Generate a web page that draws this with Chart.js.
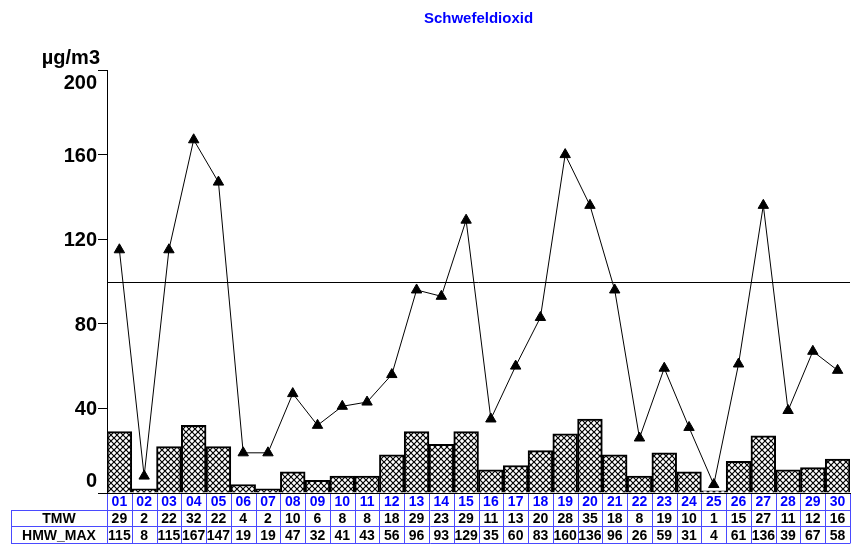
<!DOCTYPE html>
<html>
<head>
<meta charset="utf-8">
<script src="https://cdn.jsdelivr.net/npm/chart.js@4/dist/chart.umd.min.js"></script>
<style>
  html, body { margin: 0; padding: 0; background: #fff; }
  #wrap { width: 857px; height: 547px; }
</style>
</head>
<body>
<div id="wrap"><canvas id="so2" width="857" height="547"></canvas></div>
<script>
const DAYS = ['01','02','03','04','05','06','07','08','09','10','11','12','13','14','15',
              '16','17','18','19','20','21','22','23','24','25','26','27','28','29','30'];
const TMW = [29,2,22,32,22,4,2,10,6,8,8,18,29,23,29,11,13,20,28,35,18,8,19,10,1,15,27,11,12,16];
const HMW_MAX = [115,8,115,167,147,19,19,47,32,41,43,56,96,93,129,35,60,83,160,136,96,26,59,31,4,61,136,39,67,58];
const Y_TICKS = [0,40,80,120,160,200];
const LIMIT = 100;

const BLUE = '#0000ff';
const GRID_BLUE = '#4a4aff';
const FONT = 'bold 14px "Liberation Sans", Arial, sans-serif';

// crosshatch fill for the bars
function hatch() {
  const n = 6;
  const c = document.createElement('canvas');
  c.width = n; c.height = n;
  const g = c.getContext('2d');
  g.fillStyle = '#fff';
  g.fillRect(0, 0, n, n);
  g.strokeStyle = '#000';
  g.lineWidth = 1.2;
  g.beginPath();
  g.moveTo(-1, -1); g.lineTo(n + 1, n + 1);
  g.moveTo(n + 1, -1); g.lineTo(-1, n + 1);
  g.stroke();
  return g.createPattern(c, 'repeat');
}

const extras = {
  id: 'extras',
  afterDraw(chart) {
    const ctx = chart.ctx;
    const area = chart.chartArea;
    const x = chart.scales.x;
    const y = chart.scales.y;
    ctx.save();

    // limit line
    const yl = Math.round(y.getPixelForValue(LIMIT)) + 0.5;
    ctx.strokeStyle = '#000';
    ctx.lineWidth = 1;
    ctx.beginPath();
    ctx.moveTo(area.left, yl);
    ctx.lineTo(area.right, yl);
    ctx.stroke();

    // title and unit
    ctx.fillStyle = BLUE;
    ctx.font = 'bold 15px "Liberation Sans", Arial, sans-serif';
    ctx.textAlign = 'center';
    ctx.textBaseline = 'middle';
    ctx.fillText('Schwefeldioxid', (area.left + area.right) / 2, 19);

    ctx.fillStyle = '#000';
    ctx.font = 'bold 20px "Liberation Sans", Arial, sans-serif';
    ctx.textAlign = 'right';
    ctx.textBaseline = 'alphabetic';
    ctx.fillText('\u00b5g/m3', 100, 64);

    // y labels, the end ones pulled inside
    ctx.textBaseline = 'middle';
    Y_TICKS.forEach(v => {
      let py = y.getPixelForValue(v) + 1.5;
      if (v === y.max) py += 12;
      if (v === y.min) py -= 13;
      ctx.fillText(String(v), 97, py);
    });

    // table under the plot
    const w = (area.right - area.left) / DAYS.length;
    const top = area.bottom;
    const rh = 16.7;
    const left = 11;
    ctx.strokeStyle = GRID_BLUE;
    ctx.lineWidth = 1;
    ctx.beginPath();
    [1, 2, 3].forEach(r => {
      const yy = Math.round(top + r * rh) + 0.5;
      ctx.moveTo(left, yy);
      ctx.lineTo(area.right, yy);
    });
    ctx.moveTo(left + 0.5, Math.round(top + rh) + 0.5);
    ctx.lineTo(left + 0.5, Math.round(top + 3 * rh) + 0.5);
    for (let i = 0; i <= DAYS.length; i++) {
      const xx = Math.round(area.left + i * w) + 0.5;
      ctx.moveTo(xx, top + 1);
      ctx.lineTo(xx, Math.round(top + 3 * rh) + 0.5);
    }
    ctx.stroke();

    ctx.font = FONT;
    ctx.textAlign = 'center';
    ctx.textBaseline = 'middle';
    ctx.fillStyle = '#000';
    ctx.fillText('TMW', (left + area.left) / 2, top + 1.5 * rh + 1);
    ctx.fillText('HMW_MAX', (left + area.left) / 2, top + 2.5 * rh + 1);
    DAYS.forEach((d, i) => {
      const cx = x.getPixelForValue(i);
      ctx.fillStyle = BLUE;
      ctx.fillText(d, cx, top + 0.5 * rh + 1);
      ctx.fillStyle = '#000';
      ctx.fillText(String(TMW[i]), cx, top + 1.5 * rh + 1);
      ctx.fillText(String(HMW_MAX[i]), cx, top + 2.5 * rh + 1);
    });

    ctx.restore();
  }
};

const ctx = document.getElementById('so2').getContext('2d');
new Chart(ctx, {
  data: {
    labels: DAYS,
    datasets: [
      {
        type: 'line',
        label: 'HMW_MAX',
        data: HMW_MAX,
        borderColor: '#000',
        borderWidth: 1,
        tension: 0,
        pointStyle: 'triangle',
        pointRadius: 6,
        pointBackgroundColor: '#000',
        pointBorderColor: '#000',
        pointBorderWidth: 1,
        order: 0,
      },
      {
        type: 'bar',
        label: 'TMW',
        data: TMW,
        backgroundColor: hatch(),
        borderColor: '#000',
        borderWidth: 2,
        barPercentage: 1,
        categoryPercentage: 1,
        order: 1,
      },
    ],
  },
  options: {
    responsive: false,
    animation: false,
    layout: { padding: { top: 70, left: 0, right: 3, bottom: 0 } },
    plugins: {
      legend: { display: false },
      tooltip: { enabled: false },
      title: { display: false },
    },
    scales: {
      x: {
        ticks: { display: false },
        grid: { display: false },
        border: { display: true, color: '#000', width: 1 },
        afterFit(s) { s.height = 54; },
      },
      y: {
        min: 0,
        max: 200,
        ticks: { display: false, stepSize: 40 },
        grid: { drawOnChartArea: false, drawTicks: true, tickLength: 9, color: '#000' },
        border: { display: true, color: '#000', width: 1 },
        afterFit(s) { s.width = 107; },
      },
    },
  },
  plugins: [extras],
});
</script>
</body>
</html>
